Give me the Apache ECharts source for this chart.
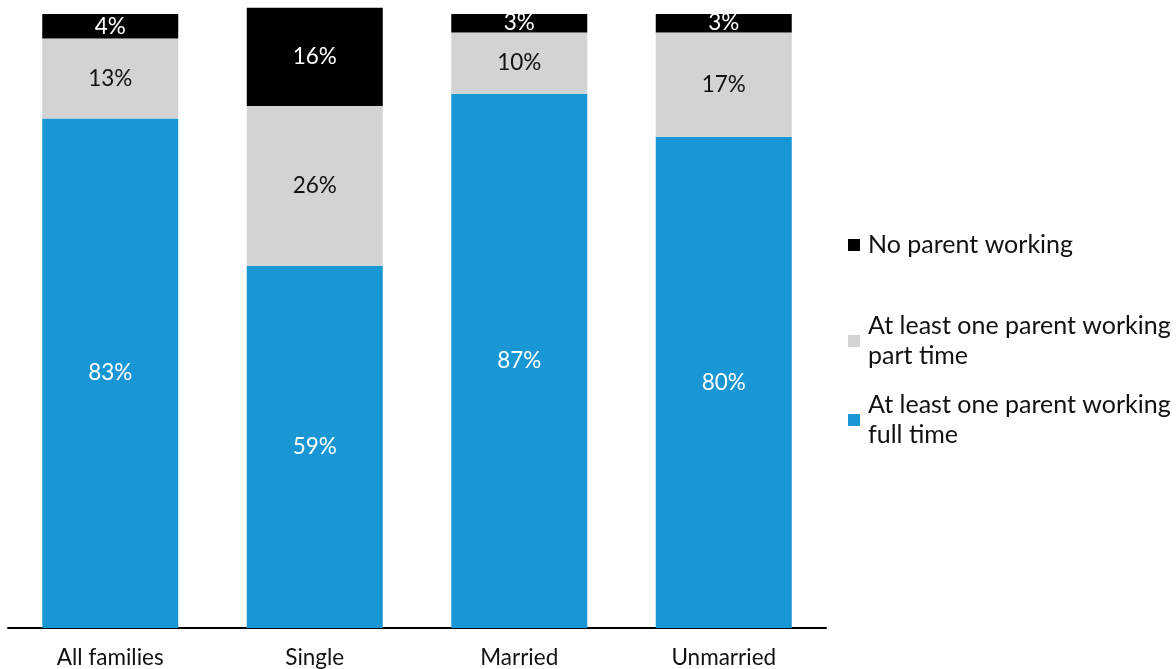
<!DOCTYPE html>
<html>
<head>
<meta charset="utf-8">
<script src="https://cdn.jsdelivr.net/npm/echarts@6/dist/echarts.min.js"></script>
<style>
  html, body { margin: 0; padding: 0; background: #fff; }
  #chart { width: 1176px; height: 669px; }
</style>
</head>
<body>
<div id="chart"></div>
<script>
var categories = ['All families', 'Single', 'Married', 'Unmarried'];
var fullTime = [83, 59, 87, 80];
var partTime = [13, 26, 10, 17];
var noParent = [4, 16, 3, 3];

var seriesNames = [
  'At least one parent working\nfull time',
  'At least one parent working\npart time',
  'No parent working'
];
var colors = ['#1996d4', '#d3d3d3', '#000000'];
var labelColors = ['#ffffff', '#111111', '#ffffff'];

var font = 'Lato, "Noto Sans", sans-serif';

var myChart = echarts.init(document.getElementById('chart'));

function makeSeries(i, data) {
  return {
    name: seriesNames[i],
    type: 'bar',
    stack: 'total',
    barWidth: 136,
    clip: false,
    data: data,
    itemStyle: { color: colors[i] },
    label: {
      show: true,
      position: 'inside',
      formatter: '{c}%',
      color: labelColors[i],
      fontFamily: font,
      fontSize: 22.5
    },
    emphasis: { disabled: true }
  };
}

function makeLegend(name, top, twoLine) {
  return {
    data: [name],
    orient: 'vertical',
    left: 848,
    top: top,
    padding: 0,
    itemWidth: 12,
    itemHeight: 12,
    icon: 'rect',
    selectedMode: false,
    textStyle: {
      fontFamily: font,
      fontSize: 25,
      color: '#111',
      lineHeight: 30,
      padding: twoLine ? [30, 0, 0, 3] : [0, 0, 0, 3]
    }
  };
}

var option = {
  animation: false,
  backgroundColor: '#fff',
  grid: { left: 8, right: 350, top: 14, bottom: 41 },
  legend: [
    makeLegend(seriesNames[2], 230, false),
    makeLegend(seriesNames[1], 296, true),
    makeLegend(seriesNames[0], 375, true)
  ],
  xAxis: {
    type: 'category',
    data: categories,
    axisLine: { lineStyle: { color: '#000', width: 2 } },
    axisTick: { show: false },
    axisLabel: {
      color: '#111',
      fontFamily: font,
      fontSize: 22.5,
      margin: 18
    }
  },
  yAxis: {
    type: 'value',
    min: 0,
    max: 100,
    show: false,
    splitLine: { show: false }
  },
  series: [
    makeSeries(0, fullTime),
    makeSeries(1, partTime),
    makeSeries(2, noParent)
  ]
};

myChart.setOption(option);
</script>
</body>
</html>
